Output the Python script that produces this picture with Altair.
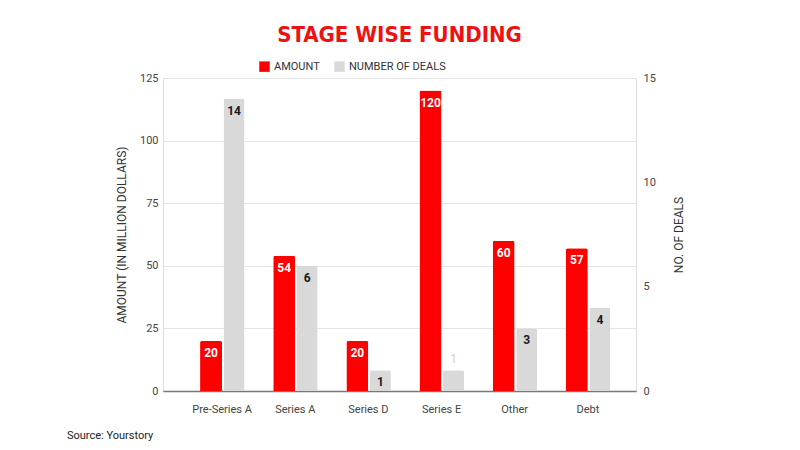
import altair as alt
import pandas as pd

stages = ["Pre-Series A", "Series A", "Series D", "Series E", "Other", "Debt"]
amount = [20, 54, 20, 120, 60, 57]
deals = [14, 6, 1, 1, 3, 4]
series_names = ["AMOUNT", "NUMBER OF DEALS"]
series_colors = ["#ff0000", "#d9d9d9"]
source_note = ["Source: Yourstory"]

df = pd.DataFrame({"stage": stages, "amount": amount, "deals": deals})
note_df = pd.DataFrame({"note": source_note})

FONT = "Roboto"

x = alt.X(
    "stage:N", sort=stages, title=None,
    scale=alt.Scale(paddingInner=0, paddingOuter=0.233, align=0.66),
    axis=alt.Axis(labelAngle=0, labelFont=FONT, labelFontSize=11, labelColor="#444",
                  labelPadding=12, ticks=False, domainColor="#777", domainWidth=1.5),
)

color_scale = alt.Scale(domain=series_names, range=series_colors)
legend = alt.Legend(title=None, orient="none", legendX=96, legendY=-17, direction="horizontal",
                    symbolType="square", symbolSize=110, symbolStrokeWidth=0, symbolOpacity=1,
                    labelFont=FONT, labelFontSize=11, labelColor="#333", columnPadding=14)
color = alt.Color("series:N", scale=color_scale, legend=legend)

amt_scale = alt.Scale(domain=[0, 125])
deal_scale = alt.Scale(domain=[0, 15])

base = alt.Chart(df)

red = base.transform_calculate(series="'AMOUNT'").mark_bar(
    width=22, xOffset=-11, cornerRadiusTopLeft=2, cornerRadiusTopRight=2).encode(
    x=x,
    y=alt.Y("amount:Q", scale=amt_scale,
            axis=alt.Axis(values=[0, 25, 50, 75, 100, 125], title="AMOUNT (IN MILLION DOLLARS)",
                          orient="left", grid=True, gridColor="#e4e4e4", domain=False, ticks=False,
                          labelPadding=5, labelFont=FONT, labelFontSize=11, labelColor="#444",
                          titleFont=FONT, titleFontSize=12, titleFontWeight="normal",
                          titleColor="#333", titlePadding=11)),
    color=color,
)
red_text = base.mark_text(dy=12, xOffset=-11, color="white", fontWeight="bold", font=FONT,
                          fontSize=12, baseline="middle").encode(
    x=x, y=alt.Y("amount:Q", scale=amt_scale), text="amount:Q")

gray = base.transform_calculate(series="'NUMBER OF DEALS'").mark_bar(
    width=21, xOffset=12, cornerRadiusTopLeft=2, cornerRadiusTopRight=2).encode(
    x=x,
    y=alt.Y("deals:Q", scale=deal_scale,
            axis=alt.Axis(values=[0, 5, 10, 15], title="NO. OF DEALS", orient="right", grid=False,
                          domain=False, ticks=False, labelPadding=7, labelFont=FONT, labelFontSize=11,
                          labelColor="#444", titleFont=FONT, titleFontSize=12,
                          titleFontWeight="normal", titleColor="#333", titlePadding=30,
                          titleAngle=270)),
    color=color,
)
gray_text = base.transform_filter(alt.datum.stage != "Series E").mark_text(
    dy=12, xOffset=12, color="#1a1a1a", fontWeight="bold", font=FONT, fontSize=12,
    baseline="middle").encode(x=x, y=alt.Y("deals:Q", scale=deal_scale), text="deals:Q")
gray_text_e = base.transform_filter(alt.datum.stage == "Series E").mark_text(
    dy=-11, xOffset=12, color="#d0d0d0", font=FONT, fontSize=12,
    baseline="middle").encode(x=x, y=alt.Y("deals:Q", scale=deal_scale), text="deals:Q")

note = alt.Chart(note_df).mark_text(font=FONT, fontSize=11, color="#222", align="left",
                                    baseline="middle").encode(
    x=alt.value(-96), y=alt.value(358), text="note:N")

amount_layer = alt.layer(red, red_text)
deals_layer = alt.layer(gray, gray_text, gray_text_e)

chart = alt.layer(amount_layer, deals_layer, note).resolve_scale(y="independent").properties(
    width=473, height=313,
    title=alt.Title("STAGE WISE FUNDING", font="Liberation Sans Narrow, DejaVu Sans Condensed, sans-serif",
                    fontSize=22, fontWeight="bold", color="#ee1111", anchor="middle", offset=14),
    autosize=alt.AutoSizeParams(type="none"),
    padding={"left": 163, "top": 78, "right": 164, "bottom": 59},
).configure_view(stroke=None).configure(background="white")

chart.save("out.html", embed_options={"renderer": "svg", "actions": False})
